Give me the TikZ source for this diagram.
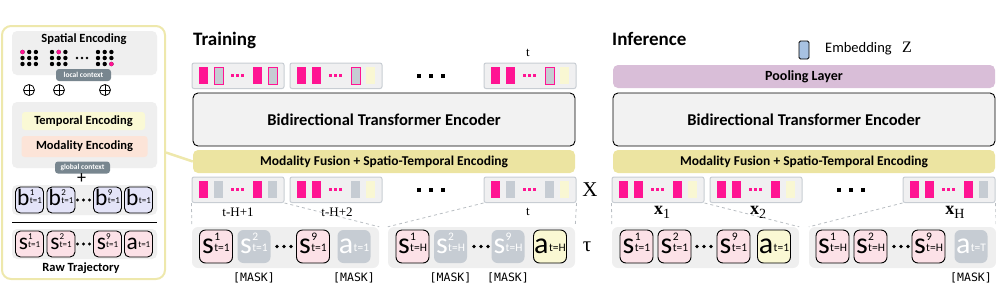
\documentclass[tikz,border=0pt]{standalone}
\usepackage{fontspec}
\usepackage{graphicx}
\setmainfont{Carlito}
\newfontfamily\seriffont{Liberation Serif}
\newfontfamily\monofont{DejaVu Sans Mono}
\usetikzlibrary{positioning}

\definecolor{cPink}{HTML}{FF1493}
\definecolor{cBarGray}{HTML}{C6CCD3}
\definecolor{cBarYel}{HTML}{F9F7D3}
\definecolor{cGrpFill}{HTML}{F0F0F1}
\definecolor{cGrpLine}{HTML}{C8CDD3}
\definecolor{cPanel}{HTML}{EFEFEF}
\definecolor{cEnc}{HTML}{F2F2F2}
\definecolor{cFuse}{HTML}{ECE4A1}
\definecolor{cRim}{HTML}{EEE8AC}
\definecolor{cPool}{HTML}{D9BED8}
\definecolor{cTokPink}{HTML}{FCE1E7}
\definecolor{cTokLav}{HTML}{E4E4F8}
\definecolor{cTokYel}{HTML}{FAF8D3}
\definecolor{cCtx}{HTML}{78868F}
\definecolor{cEmb}{HTML}{A8C2E2}
\definecolor{cTemp}{HTML}{FAF9D5}
\definecolor{cMod}{HTML}{FCE4D8}
\definecolor{cZoom}{HTML}{B8BDC2}

% token text: letter, superscript, subscript
\newcommand{\tk}[4][1]{\scalebox{#1}{{\fontsize{30}{30}\selectfont #2}\kern.4pt%
  \rlap{\raisebox{13pt}{\fontsize{11.5}{12}\selectfont #3}}%
  \raisebox{2pt}{\fontsize{11.5}{12}\selectfont #4}}}
% bold serif x with subscript
\newcommand{\xlab}[1]{{\seriffont\fontsize{18}{18}\selectfont\bfseries x}%
  \raisebox{-4pt}{\seriffont\fontsize{14}{14}\selectfont #1}}

\begin{document}
\begin{tikzpicture}[
    x=1pt, y=-1pt,
    font=\fontsize{13}{15}\selectfont,
    hdr/.style={font=\fontsize{19}{22}\selectfont\bfseries, anchor=base west, inner sep=0pt},
    bold/.style={font=\fontsize{12.5}{14}\selectfont\bfseries, inner sep=0pt},
    enc/.style={draw, line width=0.9pt, fill=cEnc, rounded corners=5pt,
                minimum width=382pt, minimum height=53pt,
                font=\fontsize{16.5}{18}\selectfont\bfseries},
    fuse/.style={fill=cFuse, rounded corners=5pt, minimum width=382pt,
                 minimum height=23pt, font=\fontsize{13.5}{15}\selectfont\bfseries},
    pool/.style={fuse, fill=cPool, font=\fontsize{14}{15}\selectfont\bfseries},
    grp/.style={draw=cGrpLine, line width=1pt, fill=cGrpFill, rounded corners=2pt,
                minimum width=92pt, minimum height=25.5pt, inner sep=0pt},
    embar/.style={minimum width=9pt, minimum height=17pt, inner sep=0pt},
    pk/.style={embar, fill=cPink},
    gy/.style={embar, fill=cBarGray},
    gp/.style={embar, fill=cBarGray, draw=cPink, line width=0.9pt},
    yl/.style={embar, fill=cBarYel},
    seq/.style={fill=cPanel, rounded corners=6pt, minimum width=187pt,
                minimum height=41pt, inner sep=0pt},
    tok/.style={draw, line width=0.9pt, fill=cTokPink, rounded corners=6pt,
                minimum width=33pt, minimum height=33pt, inner sep=0pt,
                text height=13pt, text depth=0pt},
    tokm/.style={tok, draw=none, fill=cBarGray, text=white},
    toky/.style={tok, fill=cTokYel},
    stok/.style={tok, minimum width=28pt, minimum height=26pt, rounded corners=5pt,
                 text height=10.5pt},
    stokb/.style={stok, fill=cTokLav},
    msk/.style={font=\monofont\fontsize{11.5}{12}\selectfont, inner sep=0pt},
    tlab/.style={font=\seriffont\fontsize{13}{14}\selectfont, inner sep=0pt},
    big/.style={font=\seriffont\fontsize{21}{22}\selectfont, inner sep=0pt},
    zoomln/.style={draw=cZoom, dashed, line width=0.8pt},
    rim/.style={draw=cRim, line width=2pt, rounded corners=9pt, fill=white,
                minimum width=163pt, minimum height=253pt, inner sep=0pt},
    pnl/.style={fill=cPanel, rounded corners=5pt, minimum width=145pt, inner sep=0pt},
    ctx/.style={fill=cCtx, text=white, rounded corners=3pt, minimum width=55pt,
                minimum height=12pt, inner sep=0pt,
                font=\fontsize{7.5}{8}\selectfont\bfseries},
    codebox/.style={rounded corners=3pt, inner sep=0pt,
                    font=\fontsize{12.5}{14}\selectfont\bfseries},
    oplus/.style={circle, draw, line width=0.8pt, minimum size=11pt, inner sep=0pt,
                  path picture={\draw[line width=0.8pt]
                    (path picture bounding box.north) -- (path picture bounding box.south)
                    (path picture bounding box.west) -- (path picture bounding box.east);}}
]
  \useasboundingbox (0,0) rectangle (996,285);

  % ================= Raw trajectory panel =================
  \node[rim] (raw) at (83.5,152.5) {};
  \node[pnl, minimum height=44pt] (spat) at (84.5,53) {};
  \node[bold] (spattl) at (84,39.5) {Spatial Encoding};
  \foreach \cx/\px/\py in {22.5/0/0, 52/1/0, 98/2/2} {
    \foreach \i in {0,1,2}
      \foreach \j in {0,1,2}
        \fill (\cx+\i*6.7,52+\j*6) circle[radius=2.2];
    \fill[cPink] (\cx+\px*6.7,52+\py*6) circle[radius=2.2];
  }
  \foreach \dx in {77,82,87} \fill (\dx,58) circle[radius=1.3];
  \node[ctx] (lctx) at (83.5,75) {local context};
  \node[oplus] (opA) at (29,90) {};
  \node[oplus] (opB) at (59,90) {};
  \node[oplus] (opC) at (105,90) {};

  \node[pnl, minimum height=66pt] (tpnl) at (84.5,135) {};
  \node[codebox, fill=cTemp, minimum width=123pt, minimum height=18pt] (temp) at (83.5,121) {Temporal Encoding};
  \node[codebox, fill=cMod, minimum width=126pt, minimum height=21pt] (moda) at (84.5,146.5) {Modality Encoding};
  \node[ctx] (gctx) at (82.5,167.5) {global context};
  \node[inner sep=0pt, font=\fontsize{18}{18}\selectfont] (plus) at (81.5,178.5) {+};

  \node[pnl, minimum height=30pt] (bpnl) at (84.5,200) {};
  \node[stokb] (bA) at (29.5,200)  {\tk[0.78]{b}{1}{t=1}};
  \node[stokb] (bB) at (61,200)    {\tk[0.78]{b}{2}{t=1}};
  \node[stokb] (bC) at (107.5,200) {\tk[0.78]{b}{9}{t=1}};
  \node[stokb] (bD) at (138.5,200) {\tk[0.78]{b}{}{t=1}};
  \foreach \dx in {77.5,83.5,89.5} \fill (\dx,200) circle[radius=1.6];
  \draw[line width=1pt] (12,222) -- (157,222);
  \node[pnl, minimum height=30pt] (spnl) at (84.5,244) {};
  \node[stok] (sA) at (29.5,244)  {\tk[0.78]{s}{1}{t=1}};
  \node[stok] (sB) at (61,244)    {\tk[0.78]{s}{2}{t=1}};
  \node[stok] (sC) at (107.5,244) {\tk[0.78]{s}{9}{t=1}};
  \node[stok] (sD) at (138.5,244) {\tk[0.78]{a}{}{t=1}};
  \foreach \dx in {77.5,83.5,89.5} \fill (\dx,244) circle[radius=1.6];
  \node[bold] (rawtl) at (81,268) {Raw Trajectory};

  % ================= Training =================
  \node[hdr] (train) at (193,45) {Training};
  \node[enc] (encT) at (384,119.5) {Bidirectional Transformer Encoder};
  \node[fuse] (fuseT) at (384,161.5) {Modality Fusion + Spatio-Temporal Encoding};
  \draw[draw=cRim, line width=2.5pt] (raw.east) -- (fuseT.west);

  % ================= Inference =================
  \node[hdr] (infer) at (612,45) {Inference};
  \node[draw, line width=0.8pt, fill=cEmb, rounded corners=1.5pt, minimum width=10pt,
        minimum height=18pt, inner sep=0pt] (embicon) at (804,50) {};
  \node[anchor=west, inner sep=0pt, font=\fontsize{14.5}{16}\selectfont] (emb) at (825,49) {Embedding};
  \node[anchor=west, inner sep=0pt, font=\seriffont\fontsize{16}{16}\selectfont] (zlab) at (902,47) {Z};
  \node[pool] (pool) at (804,76.5) {Pooling Layer};
  \node[enc] (encI) at (804,119.5) {Bidirectional Transformer Encoder};
  \node[fuse] (fuseI) at (804,161.5) {Modality Fusion + Spatio-Temporal Encoding};

  % ================= Embedding groups =================
  \foreach \gx/\gy/\gn/\ba/\bb/\bc/\bd in {
      192/63/tpA/pk/gp/pk/gp, 290/63/tpB/pk/pk/gp/yl, 484/63/tpC/pk/pk/gp/yl,
      192/177/xtA/pk/gy/pk/gy, 290/177/xtB/pk/pk/gy/yl, 484/177/xtC/pk/gy/gy/yl,
      612/177/xiA/pk/pk/pk/yl, 710/177/xiB/pk/pk/pk/yl, 903/177/xiC/pk/pk/pk/gy} {
    \node[grp] (\gn) at (\gx+46,\gy+12.75) {};
    \node[\ba] at (\gx+11.5,\gy+12.75) {};
    \node[\bb] at (\gx+26.5,\gy+12.75) {};
    \node[\bc] at (\gx+65.5,\gy+12.75) {};
    \node[\bd] at (\gx+80.5,\gy+12.75) {};
    \foreach \d in {40,45,50}
      \fill[cPink] (\gx+\d-1.5,\gy+11.25) rectangle ++(3,3);
  }
  \foreach \dx/\dy in {419/75.75, 431/75.75, 443/75.75, 419/189.75, 431/189.75,
                       443/189.75, 839/189.75, 851/189.75, 863/189.75}
    \fill (\dx-2.25,\dy-2.25) rectangle ++(4.5,4.5);

  \node[tlab] (tTop) at (528,53) {t};
  \node[tlab] (lA) at (238,212) {t-H+1};
  \node[tlab] (lB) at (337,212) {t-H+2};
  \node[tlab] (lC) at (528,212) {t};
  \node[big] (Xlab) at (590,190) {X};
  \node[big] (taulab) at (587,247) {τ};
  \node[inner sep=0pt] (xA) at (662,212) {\xlab{1}};
  \node[inner sep=0pt] (xB) at (758,212) {\xlab{2}};
  \node[inner sep=0pt] (xC) at (955,212) {\xlab{H}};

  % ================= Token sequences =================
  \node[seq] (trA) at (285.5,247.5) {};
  \node[seq] (trB) at (481.5,247.5) {};
  \node[seq] (inA) at (705.5,247.5) {};
  \node[seq] (inB) at (902.5,247.5) {};

  \node[tok]  (trA1) at (216,246.5)   {\tk{s}{1}{t=1}};
  \node[tokm] (trA2) at (254,246.5)   {\tk{s}{2}{t=1}};
  \node[tok]  (trA3) at (313,246.5)   {\tk{s}{9}{t=1}};
  \node[tokm] (trA4) at (354,246.5)   {\tk{a}{}{t=1}};
  \node[tok]  (trB1) at (412.5,246.5) {\tk{s}{1}{t=H}};
  \node[tokm] (trB2) at (450.5,246.5) {\tk{s}{2}{t=H}};
  \node[tokm] (trB3) at (508,246.5)   {\tk{s}{9}{t=H}};
  \node[toky] (trB4) at (550,246.5)   {\tk{a}{}{t=H}};
  \node[tok]  (inA1) at (636.5,246.5) {\tk{s}{1}{t=1}};
  \node[tok]  (inA2) at (674.5,246.5) {\tk{s}{2}{t=1}};
  \node[tok]  (inA3) at (733.5,246.5) {\tk{s}{9}{t=1}};
  \node[toky] (inA4) at (774,246.5)   {\tk{a}{}{t=1}};
  \node[tok]  (inB1) at (832.5,246.5) {\tk{s}{1}{t=H}};
  \node[tok]  (inB2) at (870.5,246.5) {\tk{s}{2}{t=H}};
  \node[tok]  (inB3) at (928.5,246.5) {\tk{s}{9}{t=H}};
  \node[tokm] (inB4) at (971,246.5)   {\tk{a}{}{t=T}};
  \foreach \dx in {277,284,291, 474,481,488, 697,704,711, 894,901,908}
    \fill (\dx,246.5) circle[radius=1.9];

  \node[msk, below=9pt of trA2] (mA) {[MASK]};
  \node[msk, below=9pt of trA4] (mB) {[MASK]};
  \node[msk, below=9pt of trB2] (mC) {[MASK]};
  \node[msk, below=9pt of trB3] (mD) {[MASK]};
  \node[msk, below=9pt of inB4] (mE) {[MASK]};

  % ================= zoom lines =================
  \draw[zoomln] (xtA.south west) -- (trA.north west);
  \draw[zoomln] (xtA.south east) -- (trA.north east);
  \draw[zoomln] (xtC.south west) -- (trB.north west);
  \draw[zoomln] (xtC.south east) -- (trB.north east);
  \draw[zoomln] (xiA.south west) -- (inA.north west);
  \draw[zoomln] (xiA.south east) -- (inA.north east);
  \draw[zoomln] (xiC.south west) -- (inB.north west);
  \draw[zoomln] (xiC.south east) -- (inB.north east);

\end{tikzpicture}
\end{document}
